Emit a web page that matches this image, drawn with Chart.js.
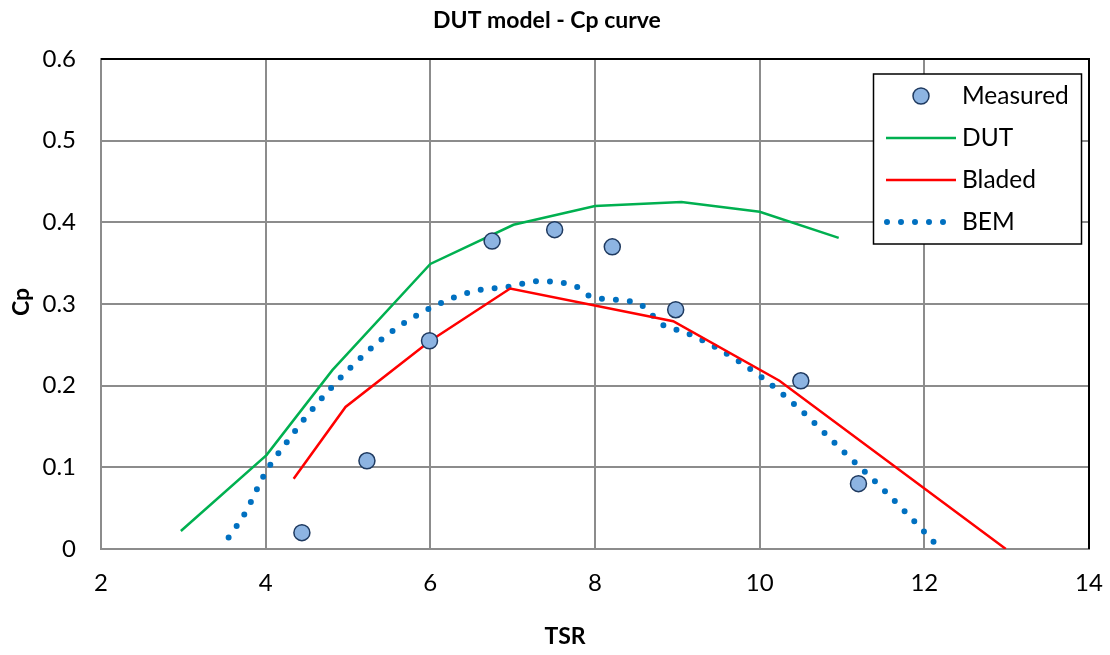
<!DOCTYPE html>
<html>
<head>
<meta charset="utf-8">
<title>DUT model - Cp curve</title>
<script src="https://cdn.jsdelivr.net/npm/chart.js@4/dist/chart.umd.min.js"></script>
<style>
  html, body { margin: 0; padding: 0; background: #ffffff; }
  #wrap { width: 1110px; height: 655px; position: relative; }
</style>
</head>
<body>
<div id="wrap"><canvas id="cp"></canvas></div>
<script>
// Measured power coefficient vs tip speed ratio
const measuredTSR = [4.44, 5.23, 5.99, 6.75, 7.51, 8.21, 8.98, 10.50, 11.20];
const measuredCp  = [0.020, 0.108, 0.255, 0.377, 0.391, 0.370, 0.293, 0.206, 0.080];

// DUT model prediction
const dutTSR = [2.97, 4.01, 4.81, 6.00, 7.01, 8.00, 9.05, 10.00, 10.96];
const dutCp  = [0.022, 0.115, 0.219, 0.349, 0.397, 0.420, 0.425, 0.413, 0.381];

// Bladed prediction
const bladedTSR = [4.34, 4.97, 6.00, 6.97, 8.95, 10.24, 12.99];
const bladedCp  = [0.086, 0.174, 0.255, 0.319, 0.279, 0.206, 0.000];

// BEM prediction
const bemTSR = [3.55, 3.75, 4.00, 4.25, 4.50, 5.00, 5.50, 6.00, 6.50, 7.00, 7.30, 7.80, 7.95, 8.45, 8.60, 8.80, 9.10, 9.50, 10.00, 10.50, 11.00, 11.50, 12.00, 12.13];
const bemCp  = [0.014, 0.044, 0.094, 0.130, 0.163, 0.219, 0.264, 0.295, 0.315, 0.322, 0.328, 0.320, 0.309, 0.303, 0.296, 0.276, 0.265, 0.245, 0.212, 0.170, 0.121, 0.073, 0.021, 0.007];

// Axis ticks
const tsrTicks = [2, 4, 6, 8, 10, 12, 14];
const cpTicks  = [0, 0.1, 0.2, 0.3, 0.4, 0.5, 0.6];
const cpTickLabels = ['0', '0.1', '0.2', '0.3', '0.4', '0.5', '0.6'];

const seriesNames = ['Measured', 'DUT', 'Bladed', 'BEM'];
const chartTitle = 'DUT model - Cp curve';
const xTitle = 'TSR';
const yTitle = 'Cp';

const FONT = 'Lato, "Open Sans", sans-serif';
const pairs = (xs, ys) => xs.map((x, i) => ({ x: x, y: ys[i] }));

// Titles, plot frame and legend drawn onto the canvas
const decor = {
  id: 'decor',
  afterDatasetsDraw(chart) {
    const ctx = chart.ctx;
    const a = chart.chartArea;
    ctx.save();
    // top and right edges of the plot frame
    ctx.strokeStyle = '#000000';
    ctx.lineWidth = 2;
    ctx.beginPath();
    ctx.moveTo(a.left, a.top);
    ctx.lineTo(a.right, a.top);
    ctx.lineTo(a.right, a.bottom);
    ctx.stroke();

    // chart and axis titles
    ctx.fillStyle = '#000000';
    ctx.textAlign = 'center';
    ctx.textBaseline = 'middle';
    ctx.font = 'bold 23px ' + FONT;
    ctx.fillText(chartTitle, 547, 21);
    ctx.fillText(xTitle, 565, 637);
    ctx.save();
    ctx.translate(22, 302);
    ctx.rotate(-Math.PI / 2);
    ctx.fillText(yTitle, 0, 0);
    ctx.restore();

    // legend
    const box = { x: 873.5, y: 74, w: 208, h: 170 };
    ctx.fillStyle = '#ffffff';
    ctx.fillRect(box.x, box.y, box.w, box.h);
    ctx.strokeStyle = '#000000';
    ctx.lineWidth = 1.5;
    ctx.strokeRect(box.x, box.y, box.w, box.h);
    const rowY = [96, 138, 180, 222];
    const ds = chart.data.datasets;
    ctx.font = '24.5px ' + FONT;
    ctx.textAlign = 'left';
    ctx.textBaseline = 'middle';
    for (let i = 0; i < ds.length; i++) {
      const y = rowY[i];
      const d = ds[i];
      if (i === 0) {
        ctx.beginPath();
        ctx.arc(921, y, d.pointRadius, 0, Math.PI * 2);
        ctx.fillStyle = d.pointBackgroundColor;
        ctx.fill();
        ctx.lineWidth = d.pointBorderWidth;
        ctx.strokeStyle = d.pointBorderColor;
        ctx.stroke();
      } else {
        ctx.beginPath();
        ctx.strokeStyle = d.borderColor;
        ctx.lineWidth = d.borderWidth;
        ctx.lineCap = d.borderCapStyle || 'butt';
        ctx.setLineDash(d.borderDash || []);
        if (d.borderDash && d.borderDash.length) {
          ctx.moveTo(887, y);
          ctx.lineTo(945, y);
        } else {
          ctx.moveTo(886, y);
          ctx.lineTo(956, y);
        }
        ctx.stroke();
        ctx.setLineDash([]);
        ctx.lineCap = 'butt';
      }
      ctx.fillStyle = '#000000';
      ctx.fillText(seriesNames[i], 962, y);
    }
    ctx.restore();
  }
};

new Chart(document.getElementById('cp'), {
  type: 'scatter',
  data: {
    datasets: [
      {
        label: seriesNames[0],
        data: pairs(measuredTSR, measuredCp),
        showLine: false,
        pointRadius: 8,
        pointBackgroundColor: '#8DB4E2',
        pointBorderColor: '#1F3A60',
        pointBorderWidth: 1.5
      },
      {
        label: seriesNames[1],
        data: pairs(dutTSR, dutCp),
        showLine: true,
        borderColor: '#00B050',
        borderWidth: 2.5,
        pointRadius: 0,
        tension: 0
      },
      {
        label: seriesNames[2],
        data: pairs(bladedTSR, bladedCp),
        showLine: true,
        borderColor: '#FF0000',
        borderWidth: 2.5,
        pointRadius: 0,
        tension: 0
      },
      {
        label: seriesNames[3],
        data: pairs(bemTSR, bemCp),
        showLine: true,
        borderColor: '#0070C0',
        borderWidth: 6,
        borderDash: [0, 14],
        borderCapStyle: 'round',
        pointRadius: 0,
        cubicInterpolationMode: 'monotone'
      }
    ]
  },
  options: {
    responsive: true,
    maintainAspectRatio: false,
    animation: false,
    layout: { padding: { top: 59, right: 21, left: 0, bottom: 0 } },
    plugins: {
      legend: { display: false },
      title: { display: false },
      tooltip: { enabled: false }
    },
    scales: {
      x: {
        type: 'linear',
        min: tsrTicks[0],
        max: tsrTicks[tsrTicks.length - 1],
        afterBuildTicks(scale) { scale.ticks = tsrTicks.map(v => ({ value: v })); },
        afterFit(scale) { scale.height = 106; scale.paddingLeft = 0; scale.paddingRight = 0; },
        grid: { color: '#8C8C8C', lineWidth: 2, drawTicks: false },
        border: { color: '#8C8C8C', width: 2 },
        ticks: {
          color: '#000000',
          padding: 20,
          font: { family: FONT, size: 24 },
          callback: (v) => String(v)
        }
      },
      y: {
        type: 'linear',
        min: cpTicks[0],
        max: cpTicks[cpTicks.length - 1],
        afterBuildTicks(scale) { scale.ticks = cpTicks.map(v => ({ value: v })); },
        afterFit(scale) { scale.width = 101; scale.paddingTop = 0; scale.paddingBottom = 0; },
        grid: { color: '#8C8C8C', lineWidth: 2, drawTicks: false },
        border: { color: '#8C8C8C', width: 2 },
        ticks: {
          color: '#000000',
          padding: 25,
          font: { family: FONT, size: 24 },
          callback: (v) => cpTickLabels[cpTicks.findIndex(t => Math.abs(t - v) < 1e-9)]
        }
      }
    }
  },
  plugins: [decor]
});
</script>
</body>
</html>
